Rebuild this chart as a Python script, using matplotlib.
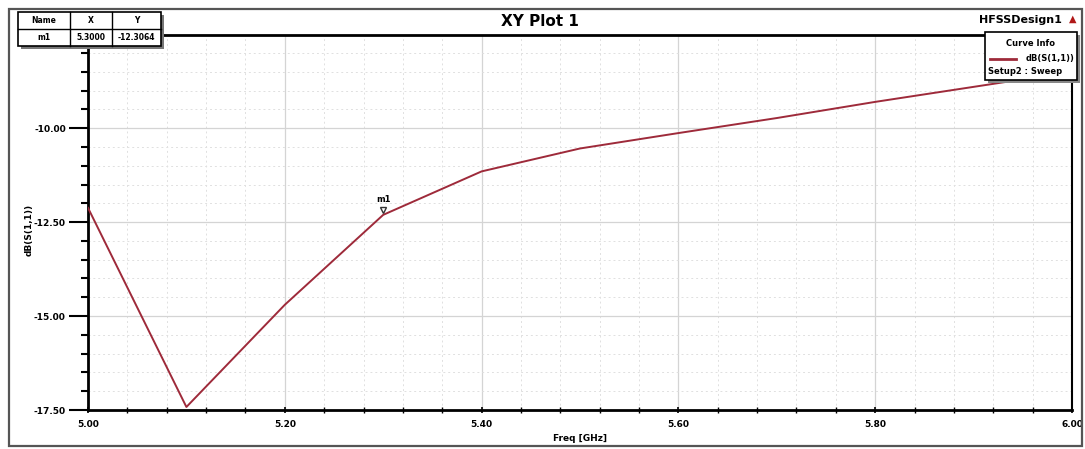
import numpy as np
import matplotlib.pyplot as plt
from matplotlib.patches import Rectangle
from matplotlib.ticker import MultipleLocator, FormatStrFormatter

freq = [5.0, 5.1, 5.2, 5.3, 5.4, 5.5, 5.6, 5.7, 5.8, 5.9, 6.0]
s11 = [-12.12, -17.42, -14.70, -12.3064, -11.15, -10.54, -10.13, -9.73, -9.30, -8.90, -8.50]
marker_name = "m1"
marker_x = 5.3000
marker_y = -12.3064
curve_name = "dB(S(1,1))"
sweep_name = "Setup2 : Sweep"

W, H = 1085, 449
fig = plt.figure(figsize=(W / 100, H / 100), dpi=100)
fig.patch.set_facecolor('white')

def fx(px):
    return px / W

def fy(py):
    return 1 - py / H

# outer frame
fig.add_artist(Rectangle((fx(9), fy(446)), fx(1082) - fx(9), fy(9) - fy(446),
                         transform=fig.transFigure, fill=False, ec='#555555', lw=1.6))

ax = fig.add_axes([fx(88), fy(410), fx(1072) - fx(88), fy(35) - fy(410)])
ax.plot(freq, s11, color='#9e2a3a', lw=1.4, zorder=3)
ax.set_xlim(5.0, 6.0)
ax.set_ylim(-17.5, -7.52)

ax.xaxis.set_major_locator(MultipleLocator(0.2))
ax.xaxis.set_minor_locator(MultipleLocator(0.04))
ax.yaxis.set_major_locator(MultipleLocator(2.5))
ax.yaxis.set_minor_locator(MultipleLocator(0.5))
ax.xaxis.set_major_formatter(FormatStrFormatter('%.2f'))
ax.yaxis.set_major_formatter(FormatStrFormatter('%.2f'))

ax.grid(which='major', color='#d4d4d4', lw=0.9)
ax.grid(which='minor', color='#e0e0e0', lw=0.7, ls=(0, (2, 3)))
ax.set_axisbelow(True)

for s in ax.spines.values():
    s.set_color('black')
ax.spines['left'].set_linewidth(2)
ax.spines['bottom'].set_linewidth(2)
ax.spines['top'].set_linewidth(2)
ax.spines['right'].set_linewidth(1.5)

ax.tick_params(axis='y', which='major', direction='out', length=14, width=1.5, pad=2, labelsize=6.5)
ax.tick_params(axis='y', which='minor', direction='out', length=5, width=1.5)
ax.tick_params(axis='x', which='major', direction='inout', length=5, width=1.2, pad=5, labelsize=6.5)
ax.tick_params(axis='x', which='minor', direction='inout', length=4, width=1.0)
for lab in ax.get_xticklabels() + ax.get_yticklabels():
    lab.set_fontweight('bold')

ax.set_xlabel('Freq [GHz]', fontsize=6.5, fontweight='bold')
ax.xaxis.set_label_coords(0.5, -0.065)
ax.set_ylabel(curve_name, fontsize=6.5, fontweight='bold')
ax.yaxis.set_label_coords(-0.055, 0.48)

# marker m1
ax.plot([marker_x], [marker_y + 0.12], marker='v', ms=4, mfc='none', mec='#333333', mew=1, zorder=4)
ax.text(marker_x, marker_y + 0.3, marker_name, fontsize=6, fontweight='bold', ha='center', va='bottom')

# title and design name
fig.text(fx(540), fy(21), 'XY Plot 1', fontsize=11, fontweight='bold', ha='center', va='center')
fig.text(fx(1062), fy(20), 'HFSSDesign1', fontsize=8, fontweight='bold', ha='right', va='center')
fig.text(fx(1073), fy(19), '\u25b2', fontsize=7, color='#b01818', ha='center', va='center')

# marker table
tx0, tx1, tx2, tx3 = 18, 70, 112, 161
ty0, ty1, ty2 = 12, 29, 46
fig.add_artist(Rectangle((fx(tx0 + 3), fy(ty2 + 3)), fx(tx3) - fx(tx0), fy(ty0) - fy(ty2),
                         transform=fig.transFigure, fc='#777777', ec='none', zorder=5))
fig.add_artist(Rectangle((fx(tx0), fy(ty2)), fx(tx3) - fx(tx0), fy(ty0) - fy(ty2),
                         transform=fig.transFigure, fc='white', ec='black', lw=1.2, zorder=6))
fig.add_artist(plt.Line2D([fx(tx0), fx(tx3)], [fy(ty1), fy(ty1)], transform=fig.transFigure,
                          color='black', lw=1, zorder=7))
for xv in (tx1, tx2):
    fig.add_artist(plt.Line2D([fx(xv), fx(xv)], [fy(ty0), fy(ty2)], transform=fig.transFigure,
                              color='black', lw=1, zorder=7))
header = ['Name', 'X', 'Y']
row = [marker_name, '%.4f' % marker_x, '%.4f' % marker_y]
centers = [(tx0 + tx1) / 2, (tx1 + tx2) / 2, (tx2 + tx3) / 2]
for c, h, r in zip(centers, header, row):
    fig.text(fx(c), fy((ty0 + ty1) / 2), h, fontsize=5.5, fontweight='bold', ha='center', va='center', zorder=8)
    fig.text(fx(c), fy((ty1 + ty2) / 2), r, fontsize=5.5, fontweight='bold', ha='center', va='center', zorder=8)

# curve info box
lx0, lx1, ly0, ly1 = 985, 1077, 32, 80
fig.add_artist(Rectangle((fx(lx0 + 3), fy(ly1 + 3)), fx(lx1) - fx(lx0), fy(ly0) - fy(ly1),
                         transform=fig.transFigure, fc='#888888', ec='none', zorder=5))
fig.add_artist(Rectangle((fx(lx0), fy(ly1)), fx(lx1) - fx(lx0), fy(ly0) - fy(ly1),
                         transform=fig.transFigure, fc='white', ec='black', lw=1.2, zorder=6))
fig.text(fx((lx0 + lx1) / 2), fy(43), 'Curve Info', fontsize=6, fontweight='bold', ha='center', va='center', zorder=8)
fig.add_artist(plt.Line2D([fx(990), fx(1016)], [fy(59), fy(59)], transform=fig.transFigure,
                          color='#9e2a3a', lw=2, zorder=8))
fig.text(fx(1074), fy(59), curve_name, fontsize=6, fontweight='bold', ha='right', va='center', zorder=8)
fig.text(fx(988), fy(72), sweep_name, fontsize=6, fontweight='bold', ha='left', va='center', zorder=8)

fig.savefig('out.png', dpi=100)
